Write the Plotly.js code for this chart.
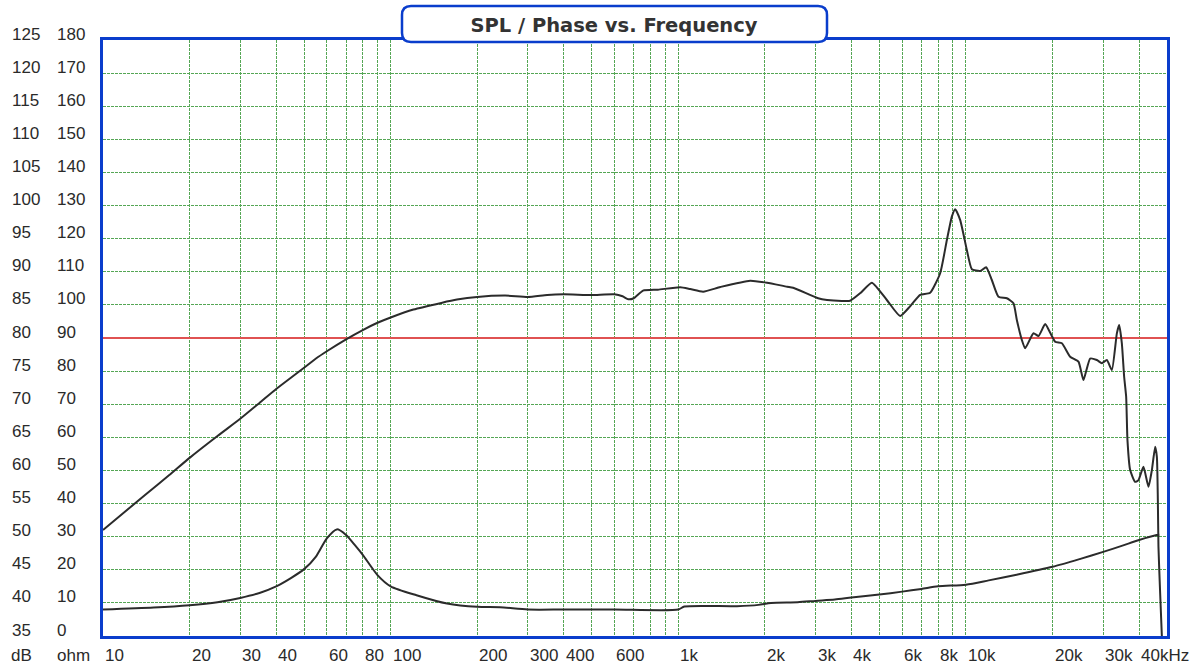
<!DOCTYPE html>
<html><head><meta charset="utf-8">
<script src="https://cdn.plot.ly/plotly-3.0.1.min.js"></script>
<style>html,body{margin:0;padding:0;background:#fff;}#chart{width:1195px;height:664px;}</style>
</head><body><div id="chart"></div>
<script>
// SPL response (Hz, dB)
const splFreq = [10,14,17,20,25,30,35,40,45,50,55,60,70,80,90,100,120,150,170,200,250,300,350,400,500,600,640,670,700,754,850,1015,1100,1220,1400,1777,2036,2390,2507,3063,3289,3700,3958,4300,4708,5309,5905,6400,6930,7509,8136,8584,8933,9172,9545,10072,10484,11205,11755,12303,12972,13875,14628,15030,15644,16064,17170,17873,18857,19628,20427,21552,23030,24614,25616,27029,28518,29683,30895,32157,33470,34095,34834,35481,36058,36434,37231,38752,39790,41416,43109,44296,45484,46106,46470,46695,47336,47985];
const splDb = [51.0,56.3,59.3,61.9,65.2,67.8,70.2,72.3,74.0,75.5,76.9,78.0,79.8,81.2,82.3,83.1,84.3,85.3,85.8,86.2,86.4,86.2,86.5,86.6,86.5,86.6,86.3,85.85,86.0,87.15,87.3,87.66,87.4,87.0,87.7,88.66,88.35,87.75,87.6,86.0,85.74,85.6,85.63,86.8,88.35,85.74,83.32,84.8,86.5,86.84,89.78,94.8,98.33,99.45,97.83,93.3,90.38,90.12,90.68,88.76,86.24,86.0,85.24,82.72,79.7,78.44,80.71,80.3,82.11,80.8,79.44,79.2,77.17,76.42,73.65,76.9,76.67,76.2,76.67,75.16,80.7,81.95,79.2,74.15,71.13,64.58,60.05,58.28,58.54,60.55,57.53,60.05,63.57,62.06,55.52,48.46,41.42,35.0];

// Impedance (Hz, ohm)
const impFreq = [10,15,20,25,30,35,40,45,50,55,60,65,70,75,80,90,100,123,157,200,240,300,400,600,1000,1050,1600,1900,2100,2600,3000,3500,4000,5000,6000,7000,8000,10000,12000,15000,20000,25000,30000,35000,40000,46000,47000];
const impOhm = [8.0,8.6,9.3,10.2,11.5,13.0,15.0,17.5,20.2,24.0,29.5,32.2,30.5,27.5,24.5,18.4,15.0,12.3,9.8,8.8,8.7,8.0,8.0,8.0,8.0,8.9,9.0,9.4,10.0,10.2,10.6,11.0,11.6,12.5,13.4,14.2,15.0,15.5,16.8,18.5,20.9,23.3,25.4,27.3,29.0,30.5,30.6];

const refLevelDb = 80;
const freqRange = [10, 50000];

const gridFreqs = [10,20,30,40,50,60,70,80,90,100,200,300,400,500,600,700,800,900,1000,2000,3000,4000,5000,6000,7000,8000,9000,10000,20000,30000,40000];
const xTickVals = [10,20,30,40,60,80,100,200,300,400,600,1000,2000,3000,4000,6000,8000,10000,20000,30000,40000];
const xTickText = ['10','20','30','40','60','80','100','200','300','400','600','1k','2k','3k','4k','6k','8k','10k','20k','30k','40kHz'];
const dbTicks = [35,40,45,50,55,60,65,70,75,80,85,90,95,100,105,110,115,120,125];
const ohmTicks = [0,10,20,30,40,50,60,70,80,90,100,110,120,130,140,150,160,170,180];
const titleText = 'SPL / Phase vs. Frequency';

const labelFont = {family:'Liberation Sans, Arial, sans-serif', size:17, color:'#2a2a2a'};
const blue = '#0a3dcc';
const green = '#55a655';

const annotations = [];
dbTicks.forEach(v => annotations.push({xref:'paper', x:(10-103)/1064, xanchor:'left', yref:'y', y:v, yanchor:'middle', yshift:6, text:String(v), showarrow:false, font:labelFont}));
ohmTicks.forEach(v => annotations.push({xref:'paper', x:(55-103)/1064, xanchor:'left', yref:'y2', y:v, yanchor:'middle', yshift:6, text:String(v), showarrow:false, font:labelFont}));
xTickVals.forEach((v,i) => annotations.push({xref:'x', x:Math.log10(v), xanchor:'left', yref:'paper', y:0, yanchor:'middle', yshift:-19, text:xTickText[i], showarrow:false, font:labelFont}));
annotations.push({xref:'paper', x:(9-103)/1064, xanchor:'left', yref:'paper', y:0, yanchor:'middle', yshift:-19, text:'dB', showarrow:false, font:labelFont});
annotations.push({xref:'paper', x:(55-103)/1064, xanchor:'left', yref:'paper', y:0, yanchor:'middle', yshift:-19, text:'ohm', showarrow:false, font:labelFont});

// rounded title box
const xL=(402-103)/1064, xR=(827-103)/1064, yT=(636-6)/596, yB=(636-42)/596, rx=9/1064, ry=9/596;
const boxPath = `M ${xL+rx},${yT} L ${xR-rx},${yT} Q ${xR},${yT} ${xR},${yT-ry} L ${xR},${yB+ry} Q ${xR},${yB} ${xR-rx},${yB} L ${xL+rx},${yB} Q ${xL},${yB} ${xL},${yB+ry} L ${xL},${yT-ry} Q ${xL},${yT} ${xL+rx},${yT} Z`;

const traces = [
  {x:freqRange, y:[refLevelDb, refLevelDb], type:'scatter', mode:'lines', line:{color:'#e05252', width:2}, yaxis:'y', hoverinfo:'skip'},
  {x:splFreq, y:splDb, type:'scatter', mode:'lines', line:{color:'#2b2b2b', width:2, shape:'spline', smoothing:0.5}, yaxis:'y', hoverinfo:'skip'},
  {x:impFreq, y:impOhm, type:'scatter', mode:'lines', line:{color:'#2b2b2b', width:2, shape:'spline', smoothing:0.7}, yaxis:'y2', hoverinfo:'skip'}
];

const layout = {
  width:1195, height:664,
  margin:{l:103, r:28, t:40, b:28},
  paper_bgcolor:'#ffffff', plot_bgcolor:'#ffffff',
  showlegend:false,
  title:{text:titleText, x:614/1195, xanchor:'center', xref:'container', y:1-25/664, yanchor:'middle', yref:'container',
         font:{family:'DejaVu Sans, sans-serif', size:19.5, color:'#333', weight:'bold'}},
  xaxis:{type:'log', range:[Math.log10(freqRange[0]), Math.log10(freqRange[1])], tickmode:'array', tickvals:gridFreqs, showticklabels:false, ticks:'',
         showgrid:true, gridcolor:green, gridwidth:1, griddash:'3px,1px', zeroline:false,
         showline:true, mirror:true, linecolor:blue, linewidth:3},
  yaxis:{range:[35,125], tickmode:'array', tickvals:dbTicks, showticklabels:false, ticks:'',
         showgrid:true, gridcolor:green, gridwidth:1, griddash:'3px,1px', zeroline:false,
         showline:true, mirror:true, linecolor:blue, linewidth:3},
  yaxis2:{range:[0,180], overlaying:'y', showgrid:false, showticklabels:false, ticks:'', zeroline:false, showline:false},
  shapes:[
    {type:'path', xref:'paper', yref:'paper', path:boxPath, fillcolor:'#ffffff', line:{color:blue, width:2.5}, layer:'above'}
  ],
  annotations:annotations
};

Plotly.newPlot('chart', traces, layout, {displayModeBar:false, staticPlot:true});
</script></body></html>
